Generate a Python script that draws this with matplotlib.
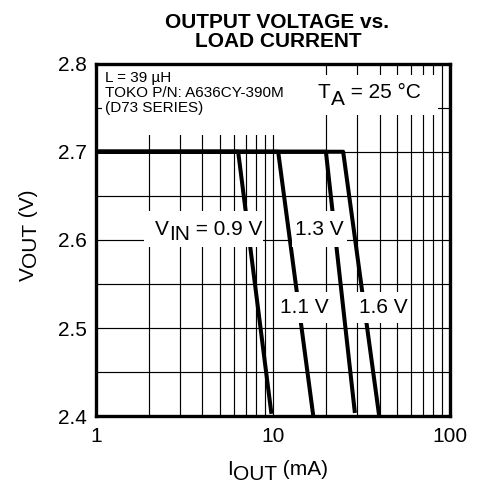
import numpy as np
import matplotlib.pyplot as plt
from matplotlib.patches import Rectangle
from matplotlib.ticker import FixedLocator, NullFormatter

plt.rcParams['font.family'] = ['Liberation Sans', 'DejaVu Sans']

# curves: flat at 2.7 V then dropping
vin_labels = ['0.9 V', '1.1 V', '1.3 V', '1.6 V']
iout_09 = [1, 6.36, 9.8]
iout_11 = [1, 10.7, 16.9]
iout_13 = [1, 19.9, 29.0]
iout_16 = [1, 24.9, 39.8]
vout_09 = [2.7, 2.7, 2.403]
vout_11 = [2.7, 2.7, 2.4]
vout_13 = [2.7, 2.7, 2.404]
vout_16 = [2.7, 2.7, 2.4]

x_ticks = [1, 10, 100]
x_ticklabels = ['1', '10', '100']
y_ticks = [2.4, 2.5, 2.6, 2.7, 2.8]
y_ticklabels = ['2.4', '2.5', '2.6', '2.7', '2.8']
y_grid = [2.45, 2.5, 2.55, 2.6, 2.65, 2.7, 2.75]
notes = ['L = 39 µH', 'TOKO P/N: A636CY-390M', '(D73 SERIES)']

FS = 15


def sub_text(ax, x, y, main, sub, rest, drop, fs=FS, rotation=0, zorder=4, **kw):
    # main text, then a same-size subscript dropped by `drop` points, then the rest
    if rotation == 0:
        t1 = ax.text(x, y, main, ha='left', va='baseline', fontsize=fs, zorder=zorder, **kw)
        t2 = ax.annotate(sub, xy=(1, 0), xycoords=t1, xytext=(0, -drop),
                         textcoords='offset points', ha='left', va='bottom',
                         fontsize=fs, zorder=zorder)
        ax.annotate(rest, xy=(1, 0), xycoords=t2, xytext=(0, drop),
                    textcoords='offset points', ha='left', va='bottom',
                    fontsize=fs, zorder=zorder)
    else:
        t1 = ax.text(x, y, main, ha='left', va='bottom', fontsize=fs,
                     rotation=90, zorder=zorder, **kw)
        t2 = ax.annotate(sub, xy=(0, 1), xycoords=t1, xytext=(drop, 0),
                         textcoords='offset points', ha='left', va='bottom',
                         fontsize=fs, rotation=90, zorder=zorder)
        ax.annotate(rest, xy=(0, 1), xycoords=t2, xytext=(-drop, 0),
                    textcoords='offset points', ha='left', va='bottom',
                    fontsize=fs, rotation=90, zorder=zorder)


fig = plt.figure(figsize=(4.84, 4.84), dpi=100)
ax = fig.add_axes([0.198, 0.1395, 0.732, 0.7293])

ax.set_xscale('log')
ax.set_xlim(1, 100)
ax.set_ylim(2.4, 2.8)

# grid
minor_x = [m * d for d in (1, 10) for m in range(2, 10)]
for xv in minor_x + [10]:
    ax.axvline(xv, color='black', lw=0.85, zorder=1)
for yv in y_grid:
    ax.axhline(yv, color='black', lw=0.85, zorder=1)

for xs, ys in ((iout_09, vout_09), (iout_11, vout_11), (iout_13, vout_13), (iout_16, vout_16)):
    ax.plot(xs, ys, color='black', lw=2.9, solid_capstyle='butt', zorder=2)

ax.xaxis.set_major_locator(FixedLocator(x_ticks))
ax.set_xticklabels(x_ticklabels)
ax.xaxis.set_minor_formatter(NullFormatter())
ax.set_yticks(y_ticks)
ax.set_yticklabels(y_ticklabels)
ax.tick_params(which='both', length=0, labelsize=FS)
ax.tick_params(axis='x', pad=7.5)
ax.tick_params(axis='y', pad=6.5)
for s in ax.spines.values():
    s.set_linewidth(2.4)
    s.set_zorder(5)

# white boxes hiding the grid behind the notes
ax.add_patch(Rectangle((0.018, 0.797), 0.559, 0.203, transform=ax.transAxes,
                       facecolor='white', edgecolor='none', zorder=3))
ax.add_patch(Rectangle((0.577, 0.854), 0.389, 0.113, transform=ax.transAxes,
                       facecolor='white', edgecolor='none', zorder=3))
for i, line in enumerate(notes):
    ax.text(0.026, 0.948 - i * 0.0425, line, transform=ax.transAxes,
            ha='left', va='baseline', fontsize=11, zorder=4)
sub_text(ax, 0.627, 0.902, 'T', 'A', ' = 25 °C', 5, transform=ax.transAxes)

# white boxes behind the curve labels (data coords)
for (x0, x1, y0, y1) in ((1.874, 8.81, 2.5921, 2.6329), (12.8, 26.1, 2.5921, 2.6329),
                         (10.69, 20.5, 2.5056, 2.5414), (29.4, 57.9, 2.5056, 2.5414)):
    ax.add_patch(Rectangle((x0, y0), x1 - x0, y1 - y0, facecolor='white',
                           edgecolor='none', zorder=3))

sub_text(ax, 2.16, 2.6057, 'V', 'IN', ' = ' + vin_labels[0], 3.6)
ax.text(13.33, 2.6057, vin_labels[2], ha='left', va='baseline', fontsize=FS, zorder=4)
ax.text(10.97, 2.5173, vin_labels[1], ha='left', va='baseline', fontsize=FS, zorder=4)
ax.text(30.7, 2.5173, vin_labels[3], ha='left', va='baseline', fontsize=FS, zorder=4)

# axis labels (figure coords)
sub_text(ax, 227 / 484, 1 - 475 / 484, 'I', 'OUT', ' (mA)', 3.4,
         transform=fig.transFigure, clip_on=False)
sub_text(ax, 19 / 484, 1 - 281 / 484, 'V', 'OUT', ' (V)', 1.5, rotation=90,
         transform=fig.transFigure, clip_on=False)

# title
fig.text(277 / 484, 1 - 28 / 484, 'OUTPUT VOLTAGE vs.', ha='center', va='baseline',
         fontsize=FS, fontweight='bold')
fig.text(278 / 484, 1 - 47 / 484, 'LOAD CURRENT', ha='center', va='baseline',
         fontsize=FS, fontweight='bold')

fig.savefig('out.png', dpi=100)
